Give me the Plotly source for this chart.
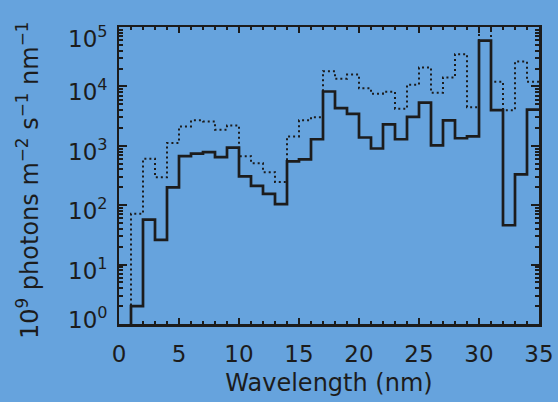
import plotly.graph_objects as go
import math

# bin left edges (nm), 1 nm bins from 0 to 35
wavelength_edges = list(range(0, 36))

# solid histogram (values per bin 0-1 ... 34-35)
solid_flux = [0.1, 2.0, 57, 26, 200, 670, 740, 780, 645, 930,
              305, 212, 155, 104, 545, 590, 1290, 8200, 4300, 3450,
              1380, 900, 2300, 1290, 3080, 5350, 1020, 2680, 1340, 1440,
              59000, 3980, 46, 331, 4080]

# dotted histogram
dotted_flux = [0.1, 72, 605, 295, 1120, 2120, 2680, 2560, 1860, 2190,
               670, 510, 360, 245, 1440, 2680, 3030, 18000, 13400, 15800,
               9300, 7550, 8100, 4200, 10700, 20800, 7800, 14100, 34800, 4460,
               150000, 12000, 3980, 26200, 12000]

y_tick_vals = [1, 10, 100, 1000, 10000, 100000]
y_tick_text = ["10<sup>0</sup>", "10<sup>1</sup>", "10<sup>2</sup>",
               "10<sup>3</sup>", "10<sup>4</sup>", "10<sup>5</sup>"]
x_tick_vals = [0, 5, 10, 15, 20, 25, 30, 35]

ink = "#1c1c1c"
bg = "#66a3dd"
font_family = "DejaVu Sans"

W, H = 558, 402
L, R, T, B = 119, 19, 27, 78
PW = W - L - R
PH = H - T - B


def step_xy(values):
    xs = list(wavelength_edges)
    ys = list(values) + [values[-1]]
    return xs, ys


fig = go.Figure()
xs, ys = step_xy(dotted_flux)
fig.add_trace(go.Scatter(x=xs, y=ys, mode="lines", line_shape="hv",
                         line=dict(color=ink, width=2, dash="2px,3px"),
                         showlegend=False, hoverinfo="skip"))
xs, ys = step_xy(solid_flux)
fig.add_trace(go.Scatter(x=xs, y=ys, mode="lines", line_shape="hv",
                         line=dict(color=ink, width=2.7),
                         showlegend=False, hoverinfo="skip"))

# y tick labels as annotations (IDL style: end labels nudged inward)
annotations = []
for v, t in zip(y_tick_vals, y_tick_text):
    shift = -4
    if v == y_tick_vals[0]:
        shift = 6
    elif v == y_tick_vals[-1]:
        shift = -10
    annotations.append(dict(
        x=(110 - L) / PW, xref="paper", y=math.log10(v), yref="y",
        text=t, showarrow=False, xanchor="right", yanchor="middle",
        yshift=shift, font=dict(size=23, color=ink, family=font_family)))

# y axis title
annotations.append(dict(
    x=(28 - L) / PW, xref="paper", y=1 - (181 - T) / PH, yref="paper",
    text="10<sup>9</sup> photons m<sup>−2</sup> s<sup>−1</sup> nm<sup>−1</sup>",
    textangle=-90, showarrow=False, xanchor="center", yanchor="middle",
    font=dict(size=24, color=ink, family=font_family)))

fig.update_layout(
    width=W, height=H,
    paper_bgcolor=bg, plot_bgcolor=bg,
    margin=dict(l=L, r=R, t=T, b=B, autoexpand=False),
    font=dict(family=font_family, size=23, color=ink),
    annotations=annotations,
    xaxis=dict(
        range=[0, 35], showgrid=False, zeroline=False,
        showline=True, linecolor=ink, linewidth=2.5, mirror="ticks",
        ticks="inside", ticklen=6, tickwidth=2, tickcolor=ink,
        tickvals=x_tick_vals, ticklabelstandoff=8,
        minor=dict(ticks="inside", ticklen=3, tickwidth=2, tickcolor=ink, dtick=1, showgrid=False),
        title=dict(text="Wavelength (nm)", standoff=8, font=dict(size=24)),
        tickfont=dict(size=23),
    ),
    yaxis=dict(
        type="log", range=[0, 5], showgrid=False, zeroline=False,
        showline=True, linecolor=ink, linewidth=2.5, mirror="ticks",
        ticks="inside", ticklen=8, tickwidth=2, tickcolor=ink,
        tickvals=y_tick_vals, showticklabels=False,
        minor=dict(ticks="inside", ticklen=4, tickwidth=2, tickcolor=ink, dtick="D1", showgrid=False),
    ),
)

fig.write_html("out.html", config={"displayModeBar": False, "staticPlot": True},
               post_script="document.body.style.margin='0';document.body.style.overflow='hidden';")
